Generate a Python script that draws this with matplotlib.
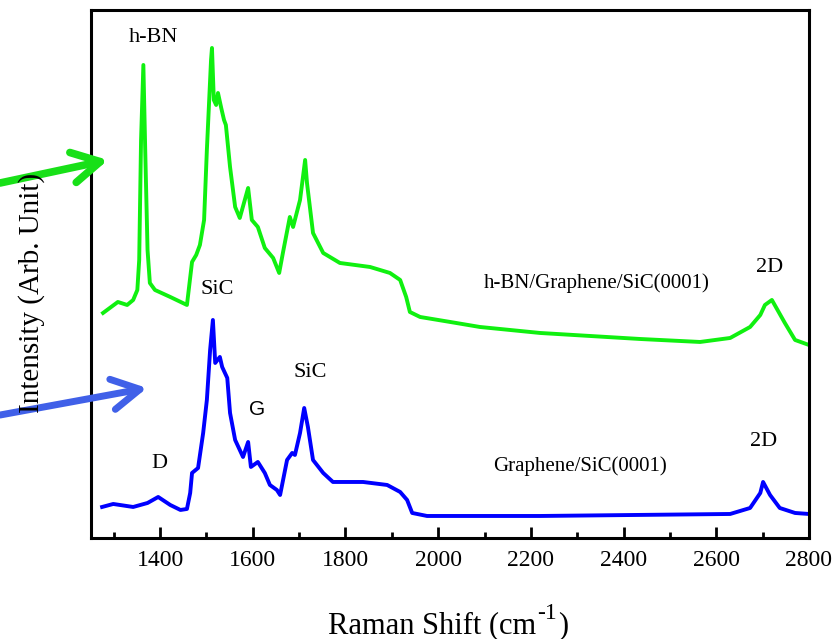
import matplotlib
matplotlib.use("Agg")
import matplotlib.pyplot as plt
from matplotlib.ticker import MultipleLocator

plt.rcParams["font.family"] = ["Liberation Serif", "DejaVu Serif"]

# Raman spectrum of h-BN/Graphene/SiC(0001)
hbn_shift = [1277, 1309, 1329, 1342, 1351, 1355, 1359, 1364, 1368, 1373, 1378, 1389,
             1422, 1458, 1469, 1478, 1486, 1495, 1501, 1506, 1510, 1512, 1516, 1521,
             1525, 1532, 1538, 1542, 1551, 1562, 1572, 1590, 1598, 1611, 1626, 1644,
             1657, 1665, 1680, 1687, 1702, 1713, 1717, 1730, 1752, 1788, 1853, 1896,
             1918, 1931, 1939, 1961, 2026, 2090, 2220, 2435, 2565, 2630, 2673, 2695,
             2705, 2720, 2748, 2770, 2800]
hbn_int = [225, 236, 233, 238, 248, 278, 398, 473, 388, 288, 255, 248,
           241, 233, 276, 283, 293, 318, 388, 438, 478, 490, 438, 433,
           445, 430, 418, 413, 371, 331, 320, 350, 318, 311, 290, 280,
           265, 285, 321, 311, 338, 378, 355, 305, 285, 275, 271, 265,
           258, 241, 226, 221, 216, 211, 205, 199, 196, 200, 211, 223,
           233, 238, 215, 198, 193]

# Raman spectrum of Graphene/SiC(0001)
gr_shift = [1275, 1299, 1342, 1373, 1396, 1422, 1444, 1458, 1465, 1469, 1482, 1493,
            1501, 1508, 1514, 1519, 1529, 1534, 1545, 1551, 1562, 1579, 1590, 1596,
            1611, 1626, 1637, 1652, 1659, 1674, 1685, 1691, 1702, 1711, 1719, 1730,
            1752, 1773, 1838, 1890, 1918, 1933, 1944, 1976, 2220, 2630, 2673, 2695,
            2701, 2716, 2737, 2770, 2800]
gr_int = [31, 34, 31, 35, 41, 33, 28, 29, 45, 65, 70, 105,
          138, 188, 218, 175, 181, 171, 160, 125, 98, 81, 96, 71,
          76, 65, 53, 48, 43, 78, 85, 83, 105, 130, 111, 78,
          65, 56, 56, 53, 46, 38, 25, 22, 22, 24, 30, 45,
          56, 43, 30, 25, 24]

x_ticks = [1400, 1600, 1800, 2000, 2200, 2400, 2600, 2800]

fig = plt.figure(figsize=(8.39, 6.39), dpi=100)
ax = fig.add_axes([0.1079, 0.1581, 0.8563, 0.8263])

ax.plot(hbn_shift, hbn_int, color="#10f010", lw=2.8, solid_joinstyle="round")
ax.plot(gr_shift, gr_int, color="#0000ff", lw=2.8, solid_joinstyle="round")

ax.set_xlim(1250, 2800)
ax.set_ylim(0, 528)
ax.set_xticks(x_ticks)
ax.xaxis.set_minor_locator(MultipleLocator(100))
ax.set_yticks([])
ax.tick_params(axis="x", which="major", direction="in", length=8, width=2,
               labelsize=17, pad=9)
ax.tick_params(axis="x", which="minor", direction="in", length=4, width=2)
for sp in ax.spines.values():
    sp.set_linewidth(2.2)

# peak labels
ax.text(1385, 500, "h-BN", fontsize=16, ha="center", va="center")
ax.text(1524, 248, "SiC", fontsize=16, ha="center", va="center")
ax.text(1724, 165, "SiC", fontsize=16, ha="center", va="center")
ax.text(1610, 128, "G", fontsize=15, ha="center", va="center",
        family="Liberation Sans")
ax.text(1398, 74, "D", fontsize=16, ha="center", va="center")
ax.text(2342, 255, "h-BN/Graphene/SiC(0001)", fontsize=15, ha="center", va="center")
ax.text(2307, 72, "Graphene/SiC(0001)", fontsize=15, ha="center", va="center")
ax.text(2716, 270, "2D", fontsize=16, ha="center", va="center")
ax.text(2703, 96, "2D", fontsize=16, ha="center", va="center")

fig.text(0.038, 0.5415, "Intensity (Arb. Unit)", rotation=90, fontsize=21,
         ha="center", va="center")

# x-axis title assembled from pieces so the exponent keeps a plain hyphen
title_main = fig.text(328 / 839, 6 / 639, "Raman Shift (cm", fontsize=22,
                      ha="left", va="baseline")
fig.canvas.draw()
r = fig.canvas.get_renderer()
bb = title_main.get_window_extent(r)
sup = fig.text((bb.x1 + 1) / 839, 20 / 639, "-1", fontsize=17,
               ha="left", va="baseline")
bb2 = sup.get_window_extent(r)
fig.text((bb2.x1 + 1) / 839, 6 / 639, ")", fontsize=22, ha="left", va="baseline")

# arrows pointing at the two spectra
for tail, tip, col, lw in [((0.0, 0.7136), (0.1287, 0.7496), "#18e018", 5.5),
                           ((0.0, 0.3505), (0.1752, 0.3928), "#4060e8", 5.0)]:
    ax.annotate("", xy=tip, xytext=tail, xycoords="figure fraction",
                textcoords="figure fraction", annotation_clip=False, zorder=10,
                arrowprops=dict(arrowstyle="->,head_length=1.0,head_width=0.55",
                                mutation_scale=20, color=col, lw=lw,
                                capstyle="round", joinstyle="round",
                                shrinkA=0, shrinkB=0))

fig.savefig("out.png", dpi=100)
